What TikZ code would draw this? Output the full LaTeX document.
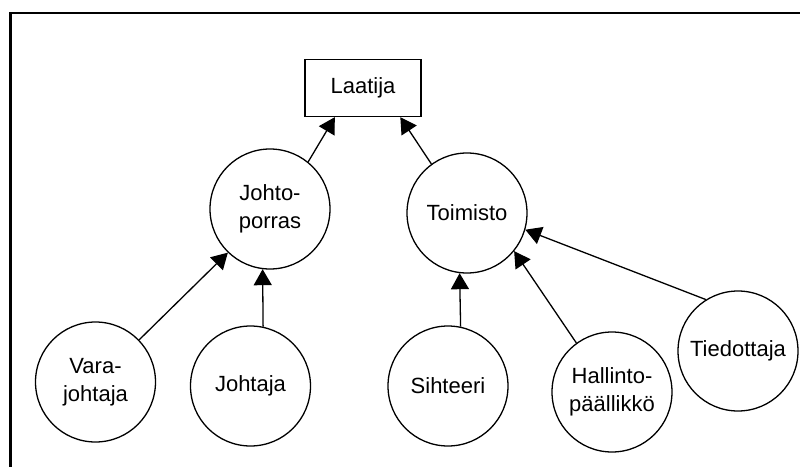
\documentclass[tikz,border=0pt]{standalone}
\usepackage{fontspec}
\setmainfont{Liberation Sans}
\usetikzlibrary{arrows.meta}
\begin{document}
\begin{tikzpicture}[x=1pt,y=-1pt,
  every node/.style={font=\fontsize{22}{28}\selectfont, inner sep=0pt, align=center},
  role/.style={circle, draw, line width=1.3pt, minimum size=120pt},
  topbox/.style={rectangle, draw, line width=1.3pt, minimum width=116pt, minimum height=57pt},
  link/.style={line width=1.3pt, -{Triangle[length=16pt,width=18pt]}}]
\useasboundingbox (0,0) rectangle (800,466);
% outer frame, open towards the right and the bottom
\draw[line width=2.2pt] (10.5,470) -- (10.5,13) -- (805,13);

% top of the hierarchy
\node[topbox] (laatija) at (363,88) {Laatija};

% middle level
\node[role] (johto) at (270,209) {Johto-\\porras};
\node[role] (toimisto) at (467,213) {Toimisto};

% bottom level
\node[role] (vara) at (95.5,382) {Vara-\\johtaja};
\node[role] (johtaja) at (250.5,386) {Johtaja};
\node[role] (sihteeri) at (448,386) {Sihteeri};
\node[role] (hallinto) at (612,392) {Hallinto-\\päällikkö};
\node[role] (tiedottaja) at (738,351) {Tiedottaja};

% reporting lines
\draw[link] (johto.51) -- (laatija.226);
\draw[link] (toimisto.126) -- (laatija.322);
\draw[link] (vara.44) -- (johto.226);
\draw[link] (johtaja.78) -- (johto.263);
\draw[link] (sihteeri.78.5) -- (toimisto.263);
\draw[link] (hallinto.126) -- (toimisto.321);
\draw[link] (tiedottaja.122) -- (toimisto.344);
\end{tikzpicture}
\end{document}
